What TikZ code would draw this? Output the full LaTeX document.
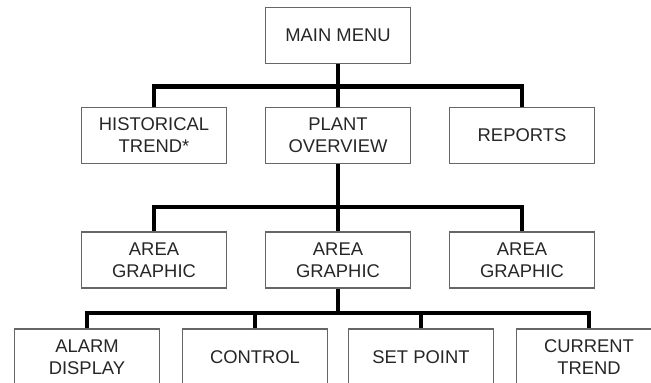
\documentclass[tikz,border=0pt]{standalone}
\usepackage{fontspec}
\setmainfont{Liberation Sans}
\begin{document}
\begin{tikzpicture}[x=1pt,y=-1pt,screen/.style={shape=rectangle,draw=black!60,line width=1.2pt,minimum width=145pt,minimum height=56pt,align=center,text=black!85,font=\fontsize{18.4}{22}\selectfont},link/.style={line width=4.5pt,black}]
\def\xm{338};
\def\dxa{184};
\def\dxb{251};
\def\dxc{83};
\def\ya{35.5};
\def\yb{135.5};
\def\yc{260};
\def\yd{357};

\clip (0,0) rectangle (651,383);

\node[screen] (menu) at (\xm,\ya) {MAIN MENU};

\node[screen] (hist) at (\xm-\dxa,\yb) {HISTORICAL\\TREND*};
\node[screen] (plant) at (\xm,\yb) {PLANT\\OVERVIEW};
\node[screen] (rep) at (\xm+\dxa,\yb) {REPORTS};
\coordinate (busA) at (\xm,86.5);
\draw[link] (hist.north) |- (busA) -| (rep.north);
\draw[link] (menu.south) -- (plant.north);

\node[screen] (areaL) at (\xm-\dxa,\yc) {AREA\\GRAPHIC};
\node[screen] (areaM) at (\xm,\yc) {AREA\\GRAPHIC};
\node[screen] (areaR) at (\xm+\dxa,\yc) {AREA\\GRAPHIC};
\coordinate (busB) at (\xm,207);
\draw[link] (areaL.north) |- (busB) -| (areaR.north);
\draw[link] (plant.south) -- (areaM.north);

\node[screen] (alarm) at (\xm-\dxb,\yd) {ALARM\\DISPLAY};
\node[screen] (ctrl) at (\xm-\dxc,\yd) {CONTROL};
\node[screen] (setp) at (\xm+\dxc,\yd) {SET POINT};
\node[screen] (trend) at (\xm+\dxb,\yd) {CURRENT\\TREND};
\coordinate (busC) at (\xm,313);
\draw[link] (alarm.north) |- (busC) -| (trend.north);
\draw[link] (areaM.south) -- (busC);
\draw[link] (ctrl.north) -- (ctrl.north |- busC);
\draw[link] (setp.north) -- (setp.north |- busC);
\end{tikzpicture}
\end{document}
